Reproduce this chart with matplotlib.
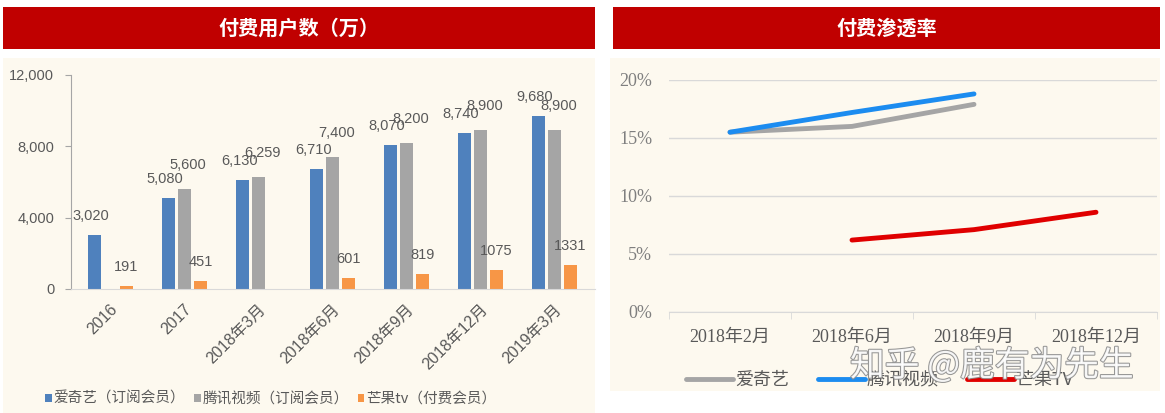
import matplotlib
matplotlib.use('Agg')
import matplotlib.pyplot as plt
import matplotlib.patches as patches
import matplotlib.patheffects as pe
import numpy as np

plt.rcParams['font.family'] = ['Liberation Sans', 'Noto Sans CJK SC', 'DejaVu Sans']

# left chart: paid users (10k)
periods = ['2016', '2017', '2018年3月', '2018年6月', '2018年9月', '2018年12月', '2019年3月']
iqiyi_users = [3020, 5080, 6130, 6710, 8070, 8740, 9680]
tencent_users = [np.nan, 5600, 6259, 7400, 8200, 8900, 8900]
mango_users = [191, 451, np.nan, 601, 819, 1075, 1331]
bar_names = ['爱奇艺（订阅会员）', '腾讯视频（订阅会员）', '芒果tv（付费会员）']

# right chart: paid penetration
months = ['2018年2月', '2018年6月', '2018年9月', '2018年12月']
iqiyi_rate = [0.155, 0.160, 0.179, np.nan]
tencent_rate = [0.155, 0.172, 0.188, np.nan]
mango_rate = [np.nan, 0.062, 0.071, 0.086]
line_names = ['爱奇艺', '腾讯视频', '芒果TV']

W, H = 1165, 413
fig = plt.figure(figsize=(W / 100, H / 100), dpi=100)
fig.patch.set_facecolor('white')


def box(x0, y0, x1, y1):
    # pixel box (top-left origin) -> figure fraction rect
    return [x0 / W, 1 - y1 / H, (x1 - x0) / W, (y1 - y0) / H]


cream = '#FDF9EF'
red = '#C00000'
for (x0, y0, x1, y1) in [(3, 58, 595, 413), (610, 58, 1160, 391)]:
    b = box(x0, y0, x1, y1)
    fig.add_artist(patches.Rectangle((b[0], b[1]), b[2], b[3], transform=fig.transFigure,
                                     facecolor=cream, edgecolor='none', zorder=-2))
for (x0, y0, x1, y1), title in [((3, 7, 595, 49), '付费用户数（万）'), ((613, 7, 1160, 49), '付费渗透率')]:
    b = box(x0, y0, x1, y1)
    fig.add_artist(patches.Rectangle((b[0], b[1]), b[2], b[3], transform=fig.transFigure,
                                     facecolor=red, edgecolor='none', zorder=-2))
    fig.text(b[0] + b[2] / 2, b[1] + b[3] / 2, title, color='white', fontsize=14.5,
             fontweight='bold', ha='center', va='center', family=['Noto Sans CJK SC'])

txt = '#595959'

# ---- bar chart
ax = fig.add_axes(box(71, 75, 595, 289))
ax.set_facecolor('none')
x = np.arange(len(periods))
w = 0.175
off = 0.218
series = [(iqiyi_users, '#4F81BD', -off, -3, 19), (tencent_users, '#A5A5A5', 0, 4, 24),
          (mango_users, '#F79646', off, 0, 19)]
for (vals, col, dx, px, py), name in zip(series, bar_names):
    ax.bar(x + dx, vals, width=w, color=col, label=name)
    for xi, v in zip(x, vals):
        if np.isnan(v):
            continue
        lab = f'{v:,.0f}' if v >= 2000 else f'{v:.0f}'
        ax.annotate(lab, (xi + dx, v), xytext=(px, py), textcoords='offset pixels',
                    ha='center', va='center', fontsize=10.5, color=txt)
ax.set_xlim(-0.53, 6.55)
ax.set_ylim(0, 12000)
ax.set_yticks([0, 4000, 8000, 12000])
ax.set_yticklabels(['0', '4,000', '8,000', '12,000'])
ax.tick_params(axis='y', colors='#A6A6A6', labelcolor=txt, labelsize=10.5, length=4, pad=8)
ax.set_xticks(x)
ax.set_xticklabels(periods, rotation=45, ha='right', rotation_mode='anchor')
ax.tick_params(axis='x', length=0, labelcolor=txt, labelsize=11.5, pad=9)
for s in ['top', 'right']:
    ax.spines[s].set_visible(False)
ax.spines['left'].set_color('#A6A6A6')
ax.spines['bottom'].set_color('#D9D9D9')
leg = ax.legend(loc='center left', bbox_to_anchor=(45 / W, 1 - 399 / H), bbox_transform=fig.transFigure,
                ncol=3, frameon=False, handlelength=0.45, handleheight=0.45,
                handletextpad=0.15, columnspacing=0.6, borderpad=0, borderaxespad=0,
                prop={'family': ['Noto Sans CJK SC'], 'size': 10.5})
for t in leg.get_texts():
    t.set_color(txt)

# ---- line chart
ax2 = fig.add_axes(box(669, 80, 1157, 312))
ax2.set_facecolor('none')
m = np.arange(len(months))
ax2.plot(m, iqiyi_rate, color='#A5A5A5', lw=3.5, solid_capstyle='round', label=line_names[0])
ax2.plot(m, tencent_rate, color='#1C8CF0', lw=3.5, solid_capstyle='round', label=line_names[1])
ax2.plot(m, mango_rate, color='#E00000', lw=3.5, solid_capstyle='round', label=line_names[2])
ax2.set_xlim(-0.5, 3.5)
ax2.set_ylim(0, 0.2)
ax2.set_yticks([0, 0.05, 0.10, 0.15, 0.20])
ax2.set_yticklabels(['0%', '5%', '10%', '15%', '20%'], family=['Liberation Serif'])
ax2.yaxis.grid(True, color='#D9D9D9', lw=1)
ax2.set_axisbelow(True)
ax2.tick_params(axis='y', length=0, labelcolor='#7F7F7F', labelsize=13, pad=12)
ax2.set_xticks(m)
ax2.set_xticklabels(months, family=['Liberation Serif', 'Noto Sans CJK SC'])
ax2.set_xticks(np.arange(-0.5, 3.6, 1), minor=True)
ax2.tick_params(axis='x', which='major', length=0, labelcolor='#595959', labelsize=13, pad=12)
ax2.tick_params(axis='x', which='minor', length=5, color='#D9D9D9')
for s in ['top', 'right', 'left']:
    ax2.spines[s].set_visible(False)
ax2.spines['bottom'].set_color('#D9D9D9')
leg2 = ax2.legend(loc='center left', bbox_to_anchor=(686 / W, 1 - 380 / H), bbox_transform=fig.transFigure,
                  ncol=3, frameon=False, handlelength=2.6, handletextpad=0.1, columnspacing=1.6,
                  borderpad=0, borderaxespad=0, prop={'family': ['Noto Sans CJK SC'], 'size': 13})
for t in leg2.get_texts():
    t.set_color('#595959')

# watermark
fig.text(850 / W, 1 - 366 / H, '知乎 @鹿有为先生', fontsize=25, color='white', alpha=0.9,
         ha='left', va='center', family=['Noto Sans CJK SC'],
         path_effects=[pe.withStroke(linewidth=1.5, foreground='#8C8C8C')])

fig.savefig('out.png', dpi=100)
